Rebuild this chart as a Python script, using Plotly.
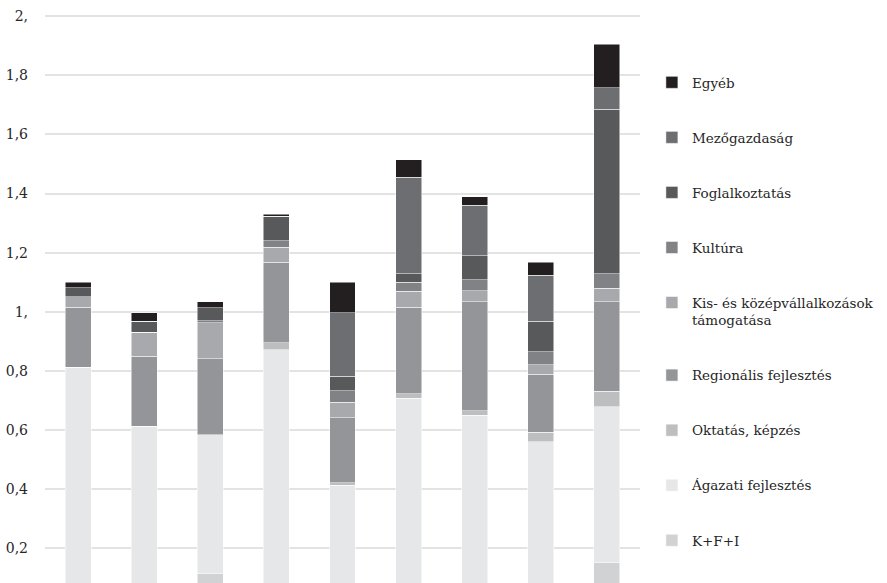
import plotly.graph_objects as go

# Nine periods, stacked by support area (bottom to top)
periods = ["1", "2", "3", "4", "5", "6", "7", "8", "9"]

kfi = [0, 0, 0.115, 0, 0, 0, 0, 0, 0.152]
agazati = [0.812, 0.612, 0.468, 0.871, 0.412, 0.708, 0.649, 0.560, 0.526]
oktatas = [0, 0, 0, 0.024, 0.009, 0.014, 0.016, 0.032, 0.053]
regionalis = [0.204, 0.238, 0.258, 0.272, 0.220, 0.294, 0.369, 0.196, 0.302]
kkv = [0.035, 0.081, 0.121, 0.051, 0.053, 0.054, 0.037, 0.032, 0.046]
kultura = [0, 0, 0.008, 0.023, 0.038, 0.030, 0.038, 0.044, 0.050]
foglalkoztatas = [0.030, 0.037, 0.043, 0.082, 0.049, 0.028, 0.081, 0.104, 0.556]
mezogazdasag = [0, 0, 0, 0, 0.216, 0.327, 0.170, 0.156, 0.073]
egyeb = [0.018, 0.029, 0.021, 0.007, 0.102, 0.059, 0.029, 0.043, 0.147]

series = [
    ("K+F+I", kfi, "#d1d2d4"),
    ("Ágazati fejlesztés", agazati, "#e6e7e8"),
    ("Oktatás, képzés", oktatas, "#bcbec0"),
    ("Regionális fejlesztés", regionalis, "#939598"),
    ("Kis- és középvállalkozások<br>támogatása", kkv, "#a7a9ac"),
    ("Kultúra", kultura, "#808285"),
    ("Foglalkoztatás", foglalkoztatas, "#58595b"),
    ("Mezőgazdaság", mezogazdasag, "#6d6e71"),
    ("Egyéb", egyeb, "#231f20"),
]

tick_vals = [0.2, 0.4, 0.6, 0.8, 1.0, 1.2, 1.4, 1.6, 1.8, 2.0]
tick_text = ["0,2", "0,4", "0,6", "0,8", "1,", "1,2", "1,4", "1,6", "1,8", "2,"]

FONT = "DejaVu Serif"
TEXT_COLOR = "#262626"

fig = go.Figure()
n = len(series)
for i, (name, vals, color) in enumerate(series):
    fig.add_trace(go.Bar(
        x=periods,
        y=vals,
        name=name,
        legendgroup=f"g{i}",
        legendrank=n - i,  # top of the stack listed first
        marker=dict(color=color, line=dict(color="rgba(255,255,255,0.7)", width=0.7)),
        hoverinfo="name+y",
    ))

fig.update_layout(
    width=887,
    height=583,
    barmode="stack",
    bargap=0.607,
    plot_bgcolor="white",
    paper_bgcolor="white",
    margin=dict(l=45, r=247, t=0, b=0),
    font=dict(family=FONT, size=14, color=TEXT_COLOR),
    xaxis=dict(showticklabels=False, showgrid=False, zeroline=False, showline=False, ticks=""),
    yaxis=dict(
        range=[0.082, 2.055],
        tickvals=tick_vals,
        ticktext=tick_text,
        showgrid=True,
        gridcolor="#e3e3e3",
        gridwidth=1.6,
        zeroline=False,
        showline=False,
        ticks="",
        ticklabelstandoff=16,
        tickfont=dict(family=FONT, size=14, color=TEXT_COLOR),
    ),
    legend=dict(
        x=1.02,
        xanchor="left",
        y=0.885,
        yanchor="top",
        traceorder="grouped",
        tracegroupgap=34.5,
        valign="top",
        itemwidth=30,
        font=dict(family=FONT, size=13.5, color=TEXT_COLOR),
        bgcolor="rgba(0,0,0,0)",
    ),
    showlegend=True,
)

fig.write_html("out.html")
